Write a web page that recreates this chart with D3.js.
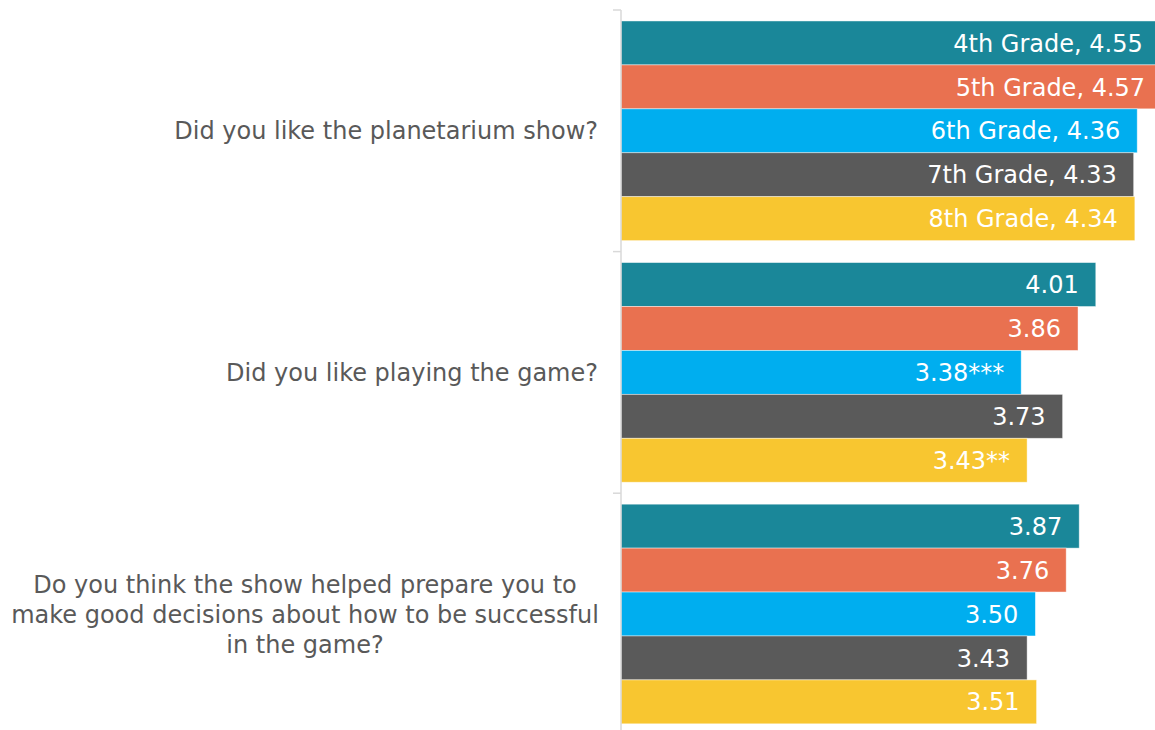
<!DOCTYPE html>
<html>
<head>
<meta charset="utf-8">
<script src="https://cdn.jsdelivr.net/npm/d3@7"></script>
<style>
  html, body { margin: 0; padding: 0; background: #fff; }
  svg { display: block; }
  text { font-family: "DejaVu Sans", Verdana, sans-serif; }
</style>
</head>
<body>
<svg id="chart" width="1155" height="730"></svg>
<script>
// Survey questions (one band each)
const questions = [
  "Did you like the planetarium show?",
  "Did you like playing the game?",
  "Do you think the show helped prepare you to make good decisions about how to be successful in the game?"
];
// Line breaks used for the question labels
const questionLines = [
  ["Did you like the planetarium show?"],
  ["Did you like playing the game?"],
  ["Do you think the show helped prepare you to", "make good decisions about how to be successful", "in the game?"]
];
// Grade series
const grades = ["4th Grade", "5th Grade", "6th Grade", "7th Grade", "8th Grade"];
const gradeColors = ["#1a8799", "#e97150", "#00aeef", "#5a5a5a", "#f8c630"];
// Mean ratings, one array per grade, in question order
const grade4 = [4.55, 4.01, 3.87];
const grade5 = [4.57, 3.86, 3.76];
const grade6 = [4.36, 3.38, 3.50];
const grade7 = [4.33, 3.73, 3.43];
const grade8 = [4.34, 3.43, 3.51];
// Significance markers, one array per grade, in question order
const sig4 = ["", "", ""];
const sig5 = ["", "", ""];
const sig6 = ["", "***", ""];
const sig7 = ["", "", ""];
const sig8 = ["", "**", ""];

const seriesValues = [grade4, grade5, grade6, grade7, grade8];
const seriesSig = [sig4, sig5, sig6, sig7, sig8];

const rows = [];
questions.forEach((q, qi) => {
  grades.forEach((g, gi) => {
    rows.push({
      question: q, qi, grade: g, gi,
      value: seriesValues[gi][qi],
      label: (qi === 0 ? g + ", " : "") + d3.format(".2f")(seriesValues[gi][qi]) + seriesSig[gi][qi]
    });
  });
});

const svg = d3.select("#chart");
const W = 1155, H = 730;
const axisX = 621;

const x = d3.scaleLinear().domain([0, 4.5]).range([axisX, 1153.8]);
const y0 = d3.scaleBand().domain(questions).range([10, 734.8]).padding(0);
const y1 = d3.scaleBand().domain(grades)
  .range([0, y0.bandwidth()]).paddingInner(0).paddingOuter(0.25);

svg.append("defs").append("clipPath").attr("id", "plot-clip")
  .append("rect").attr("x", axisX).attr("y", 0).attr("width", W - axisX).attr("height", H);

// Bars
const barG = svg.append("g").attr("clip-path", "url(#plot-clip)");
barG.selectAll("rect.bar").data(rows).join("rect")
  .attr("class", "bar")
  .attr("x", x(0))
  .attr("y", d => y0(d.question) + y1(d.grade))
  .attr("width", d => x(d.value) - x(0))
  .attr("height", y1.bandwidth())
  .attr("fill", d => gradeColors[d.gi])
  .attr("stroke", "rgba(255,255,255,0.55)")
  .attr("stroke-width", 0.8);

// Value labels inside the bar ends
svg.selectAll("text.val").data(rows).join("text")
  .attr("class", "val")
  .attr("x", d => x(d.value) - 17)
  .attr("y", d => y0(d.question) + y1(d.grade) + y1.bandwidth() / 2)
  .attr("dy", "0.36em")
  .attr("text-anchor", "end")
  .attr("fill", "#fff")
  .attr("font-size", 24)
  .text(d => d.label);

// Category axis line with tick marks at band boundaries
const axisG = svg.append("g");
axisG.append("line")
  .attr("x1", axisX).attr("x2", axisX)
  .attr("y1", y0.range()[0]).attr("y2", y0.range()[1])
  .attr("stroke", "#d9d9d9").attr("stroke-width", 1.5);
const bounds = questions.map(q => y0(q)).concat([y0.range()[1]]);
axisG.selectAll("line.tick").data(bounds).join("line")
  .attr("class", "tick")
  .attr("x1", axisX - 8).attr("x2", axisX)
  .attr("y1", d => d).attr("y2", d => d)
  .attr("stroke", "#d9d9d9").attr("stroke-width", 1.5);

// Question labels
const lineH = 30;
const qLabels = svg.selectAll("text.q").data(questions).join("text")
  .attr("class", "q")
  .attr("fill", "#595959")
  .attr("font-size", 24)
  .attr("text-anchor", (d, i) => questionLines[i].length > 1 ? "middle" : "end");
qLabels.each(function(d, i) {
  const lines = questionLines[i];
  const cy = y0(d) + y0.bandwidth() / 2;
  const multi = lines.length > 1;
  const tx = multi ? 305 : 598;
  d3.select(this).selectAll("tspan").data(lines).join("tspan")
    .attr("x", tx)
    .attr("y", (l, j) => cy + (j - (lines.length - 1) / 2) * lineH)
    .attr("dy", "0.36em")
    .text(l => l);
});
</script>
</body>
</html>
